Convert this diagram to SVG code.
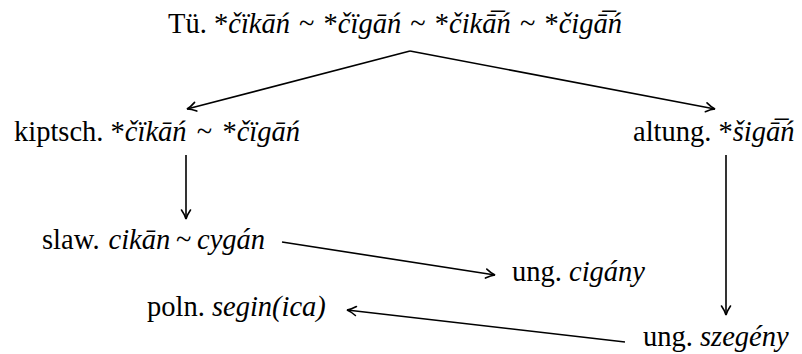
<svg xmlns="http://www.w3.org/2000/svg" width="802" height="354" viewBox="0 0 802 354" font-family="Liberation Serif, serif">
<style>
text{font-family:"Liberation Serif","Times New Roman",serif;font-size:28.5px;fill:#000}
.i{font-style:italic}
.c line{stroke:#000;stroke-width:1.6;fill:none;marker-end:url(#ah)}
</style>
<defs>
<marker id="ah" markerUnits="userSpaceOnUse" markerWidth="14" markerHeight="12" viewBox="0 0 14 12" refX="12" refY="6" orient="auto">
<path d="M3,1.5 Q8,5 12,6 Q8,7 3,10.5" fill="none" stroke="#000" stroke-width="1.6" stroke-linecap="round"/>
</marker>
</defs>
<rect width="802" height="354" fill="#fff"/>
<g id="tue"><text y="33"><tspan x="168">Tü.</tspan><tspan x="214">*</tspan><tspan class="i">čïkāń</tspan><tspan x="299.1">~</tspan><tspan x="323.6">*</tspan><tspan class="i">čïgāń</tspan><tspan x="410.3">~</tspan><tspan x="434.8">*</tspan><tspan class="i">čikā̅ń</tspan><tspan x="519.9">~</tspan><tspan x="544.4">*</tspan><tspan class="i">čigā̅ń</tspan></text></g>
<g id="kiptsch"><text y="141"><tspan x="14">kiptsch.</tspan><tspan x="110.6">*</tspan><tspan class="i">čïkāń</tspan><tspan x="196.8">~</tspan><tspan x="222.4">*</tspan><tspan class="i">čïgāń</tspan></text></g>
<g id="altung"><text y="141"><tspan x="633">altung.</tspan><tspan x="718.5">*</tspan><tspan class="i">šigā̅ń</tspan></text></g>
<g id="slaw"><text y="249"><tspan x="42">slaw.</tspan><tspan class="i" x="108.5">cikān</tspan><tspan x="176">~</tspan><tspan class="i" x="197">cygán</tspan></text></g>
<g id="ungcigany"><text y="281"><tspan x="512">ung.</tspan><tspan class="i" x="569">cigány</tspan></text></g>
<g id="poln"><text y="316"><tspan x="147">poln.</tspan><tspan class="i" x="211.9">segin(ica)</tspan></text></g>
<g id="ungszegeny"><text y="346"><tspan x="643">ung.</tspan><tspan class="i" x="700">szegény</tspan></text></g>
<g class="c" id="connectors">
<line x1="410" y1="51" x2="187" y2="109"/>
<line x1="410" y1="51" x2="715" y2="109"/>
<line x1="186" y1="155" x2="186" y2="219"/>
<line x1="726" y1="155" x2="726" y2="315"/>
<line x1="282" y1="242" x2="495" y2="275"/>
<line x1="625" y1="342" x2="347" y2="310"/>
</g>
</svg>
